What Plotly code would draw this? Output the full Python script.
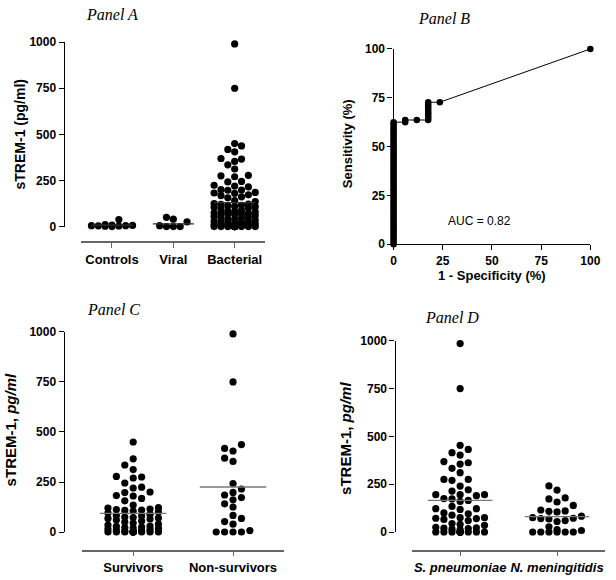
import numpy as np
import plotly.graph_objects as go

W, H = 616, 580

# ---------------- data ----------------
groups_a = ["Controls", "Viral", "Bacterial"]
controls = [38, 10, 8, 6, 5, 5, 4, 3, 2, 0]
viral = [50, 40, 25, 5, 0, 0, 0]

groups_c = ["Survivors", "Non-survivors"]
survivors = [450, 366, 335, 312, 278, 275, 270, 245, 224, 220,
             200, 197, 182, 180, 168, 156, 135, 122, 120, 115,
             112, 110, 108, 105, 100, 95, 88, 82, 80, 75,
             72, 70, 68, 65, 60, 55, 50, 45, 40, 35,
             30, 28, 25, 22, 20, 18, 15, 12, 10, 8,
             5, 3, 0, 0, 0, 0, 0, 0, 0, 0, 0, 0, 0, 0]
non_survivors = [990, 750, 437, 418, 405, 369, 353, 242, 215, 198, 185, 172,
                 161, 141, 125, 83, 68, 52, 39, 7, 0, 0, 0, 0]
bacterial = survivors + non_survivors

groups_d = ["S. pneumoniae", "N. meningitidis"]
s_pneumoniae = [985, 750, 453, 432, 415, 402, 368, 362, 355, 333,
                310, 275, 275, 270, 240, 221, 214, 195, 195, 195,
                190, 175, 173, 165, 160, 134, 122, 122, 118, 100,
                95, 88, 75, 75, 72, 70, 66, 60, 44, 40,
                35, 25, 22, 20, 18, 15, 12, 0, 0, 0, 0, 0, 0, 0, 0, 0, 0, 0, 0]
n_meningitidis = [241, 219, 178, 173, 157, 139, 115, 110, 108, 105, 83, 75, 72,
                  70, 68, 60, 55, 27, 12, 8, 0, 0, 0, 0, 0, 0]

means_a = [8, 15, 130]
means_c = [93, 225]
means_d = [165, 80]

roc_fpr = [0, 0, 0, 0, 0, 0, 0, 0, 0, 0, 0, 0, 0, 0, 0, 0, 0, 0, 0, 0,
           0, 0, 0, 0, 0, 0, 0, 0, 0, 0, 0, 0, 0, 0, 0, 0, 0, 0, 0, 0,
           0, 0, 0, 0, 0, 0, 0, 0, 0, 0, 0, 0, 0, 0, 0, 0,
           5.9, 5.9, 11.8, 17.6, 17.6, 17.6, 17.6, 17.6, 17.6, 17.6, 17.6, 17.6,
           23.5, 100]
roc_sens = [0.0, 1.1, 2.3, 3.4, 4.5, 5.7, 6.8, 8.0, 9.1, 10.2, 11.4, 12.5, 13.6,
            14.8, 15.9, 17.0, 18.2, 19.3, 20.5, 21.6, 22.7, 23.9, 25.0, 26.1,
            27.3, 28.4, 29.5, 30.7, 31.8, 33.0, 34.1, 35.2, 36.4, 37.5, 38.6,
            39.8, 40.9, 42.0, 43.2, 44.3, 45.5, 46.6, 47.7, 48.9, 50.0, 51.1,
            52.3, 53.4, 54.5, 55.7, 56.8, 58.0, 59.1, 60.2, 61.4, 62.5,
            62.5, 63.6, 63.6, 63.6, 64.8, 65.9, 67.0, 68.2, 69.3, 70.5, 71.6, 72.7,
            72.7, 100]
auc_text = "AUC = 0.82"
y_ticks = [0, 250, 500, 750, 1000]
roc_ticks = [0, 25, 50, 75, 100]

# ---------------- helpers ----------------
SANS = "Liberation Sans, Arial, sans-serif"
SERIF = "Liberation Serif, Times New Roman, serif"


def swarm(vals, ypx, xpx, col_px, max_cols, dot=7.0):
    vals = np.asarray(vals, dtype=float)
    order = np.argsort(vals, kind="stable")
    cands = [0]
    for k in range(1, max_cols + 1):
        cands += [-k, k]
    placed = {}
    offs = np.zeros(len(vals))
    for i in order:
        y = vals[i] * ypx
        best, bestd = None, -1.0
        for c in cands:
            ys = placed.get(c, [])
            d = min((abs(y - v) for v in ys), default=1e9)
            if d >= dot:
                best = c
                break
            if d > bestd:
                best, bestd = c, d
        placed.setdefault(best, []).append(y)
        offs[i] = best * col_px / xpx
    return offs


fig = go.Figure()


def add_group(vals, pos, xa, ya, ypx, xpx, col_px, max_cols, mean, half_px, line_col):
    offs = swarm(vals, ypx, xpx, col_px, max_cols)
    fig.add_trace(go.Scatter(x=pos + offs, y=vals, mode="markers", xaxis=xa, yaxis=ya,
                             marker=dict(size=7.2, color="black"), cliponaxis=False,
                             hoverinfo="skip", showlegend=False))
    hw = half_px / xpx
    fig.add_trace(go.Scatter(x=[pos - hw, pos + hw], y=[mean, mean], mode="lines",
                             xaxis=xa, yaxis=ya, line=dict(color=line_col, width=1.3),
                             cliponaxis=False, hoverinfo="skip", showlegend=False))


# Panel A: px per unit
A_ypx = 189 / 1000
A_xpx = 188 / 3
for i, vals in enumerate([controls, viral, bacterial]):
    add_group(vals, i, "x", "y", A_ypx, A_xpx, 7.0, 3, means_a[i], 21, "#333333")

# Panel C
C_ypx = 205 / 1000
C_xpx = 102
for i, vals in enumerate([survivors, non_survivors]):
    add_group(vals, i, "x3", "y3", C_ypx, C_xpx, 8.6, 3, means_c[i], 34, "#777777")

# Panel D
D_ypx = 196 / 1000
D_xpx = 99
for i, vals in enumerate([s_pneumoniae, n_meningitidis]):
    add_group(vals, i, "x4", "y4", D_ypx, D_xpx, 8.3, 3, means_d[i], 33, "#777777")

# Panel B ROC
fig.add_trace(go.Scatter(x=roc_fpr, y=roc_sens, mode="lines+markers", xaxis="x2", yaxis="y2",
                         line=dict(color="black", width=1),
                         marker=dict(size=6.5, color="black"), cliponaxis=False,
                         hoverinfo="skip", showlegend=False))


def px_x(p):
    return p / W


def px_y(p):
    return 1 - p / H


tickfont = dict(family=SANS, size=12, color="black", weight="bold")
catfont = dict(family=SANS, size=13, color="black", weight="bold")

yax_common = dict(range=[0, 1000], tickvals=y_ticks, ticks="outside", ticklen=5,
                  tickwidth=1.2, tickcolor="black", showline=True, linecolor="black",
                  linewidth=1.3, showgrid=False, zeroline=False, tickfont=tickfont,
                  anchor="free")
xcat_common = dict(ticks="outside", ticklen=5, tickwidth=1.2, tickcolor="#666666",
                   showline=True, linecolor="#666666", linewidth=1.5, showgrid=False,
                   zeroline=False, tickfont=catfont, anchor="free")

fig.update_layout(
    width=W, height=H, margin=dict(l=0, r=0, t=0, b=0),
    plot_bgcolor="white", paper_bgcolor="white", showlegend=False,
    xaxis=dict(domain=[px_x(80), px_x(268)], range=[-0.5, 2.5], position=px_y(241),
               tickvals=[0, 1, 2], ticktext=groups_a, **xcat_common),
    yaxis=dict(domain=[px_y(225), px_y(36)], position=px_x(62), **yax_common),
    xaxis3=dict(domain=[px_x(81), px_x(287)], range=[-0.51, 1.51], position=px_y(557),
                tickvals=[0, 1], ticktext=groups_c, **xcat_common),
    yaxis3=dict(domain=[px_y(538), px_y(333)], position=px_x(62), **yax_common),
    xaxis4=dict(domain=[px_x(418), px_x(615)], range=[-0.495, 1.495], position=px_y(557),
                tickvals=[0, 1], ticktext=["<i>" + g + "</i>" for g in groups_d], **xcat_common),
    yaxis4=dict(domain=[px_y(538), px_y(342)], position=px_x(400), **yax_common),
    xaxis2=dict(domain=[px_x(399), px_x(600)], range=[0, 100], anchor="y2",
                tickvals=roc_ticks, ticks="outside", ticklen=5, tickwidth=1.2,
                tickcolor="black", showline=True, linecolor="black", linewidth=1.3,
                showgrid=False, zeroline=False, tickfont=tickfont),
    yaxis2=dict(domain=[px_y(243), px_y(43)], range=[0, 100], anchor="x2",
                tickvals=roc_ticks, ticks="outside", ticklen=5, tickwidth=1.2,
                tickcolor="black", showline=True, linecolor="black", linewidth=1.3,
                showgrid=False, zeroline=False, tickfont=tickfont),
)

ann = []


def add_text(text, x, y, size, family=SANS, angle=0, color="black"):
    ann.append(dict(text=text, x=px_x(x), y=px_y(y), xref="paper", yref="paper",
                    xanchor="center", yanchor="middle", showarrow=False, textangle=angle,
                    font=dict(family=family, size=size, color=color)))


add_text("<i>Panel A</i>", 111, 8, 16, SERIF)
add_text("<i>Panel B</i>", 450, 12, 16, SERIF)
add_text("<i>Panel C</i>", 113, 310, 16, SERIF)
add_text("<i>Panel D</i>", 459, 318, 16, SERIF)
add_text("<b>sTREM-1 (pg/ml)</b>", 17, 131, 14, angle=-90)
add_text("<b>Sensitivity (%)</b>", 352, 140, 13, angle=-90)
add_text("<b>1 - Specificity (%)</b>", 500, 275, 13)
add_text("<b>sTREM-1, <i>pg/ml</i></b>", 8, 433, 15, angle=-90)
add_text("<b>sTREM-1, <i>pg/ml</i></b>", 350, 442, 15, angle=-90)
add_text(auc_text, 487, 219, 12)
fig.update_layout(annotations=ann)

fig.write_html("out.html", config={"displayModeBar": False},
               post_script="document.body.style.margin='0';document.body.style.overflow='hidden';")
